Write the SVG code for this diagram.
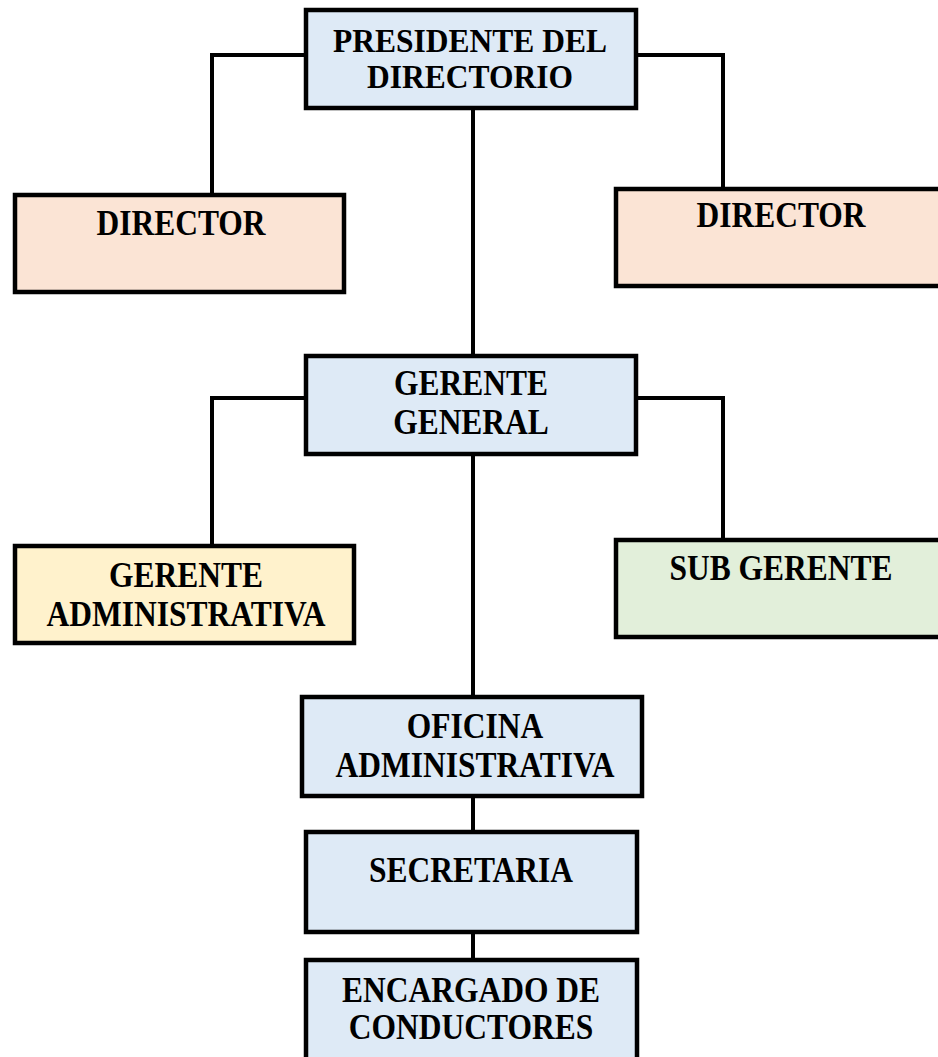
<svg xmlns="http://www.w3.org/2000/svg" width="938" height="1057" viewBox="0 0 938 1057">
<style>
.box{stroke:#000;stroke-width:4.5}
.blue{fill:#DEEAF6}
.peach{fill:#FBE4D5}
.yellow{fill:#FFF2CC}
.green{fill:#E2EFDA}
.lbl{font-family:"Liberation Serif","Times New Roman",serif;font-weight:bold;font-size:35px;fill:#000;text-anchor:middle}
.sm{font-size:33px}
.conn{fill:none;stroke:#000;stroke-width:4}
</style>
<rect width="938" height="1057" fill="#fff"/>
<g id="connectors">
<path class="conn" d="M306 55 H212 V195"/>
<path class="conn" d="M636 55 H723 V189"/>
<path class="conn" d="M473 108 V356"/>
<path class="conn" d="M306 398 H212 V546"/>
<path class="conn" d="M636 398 H723 V540"/>
<path class="conn" d="M473 454 V697"/>
<path class="conn" d="M473 796 V832"/>
<path class="conn" d="M473 932 V960"/>
</g>
<g id="presidente">
<rect class="box blue" x="306" y="10" width="330" height="98"/>
<text class="lbl sm" transform="translate(470 52) scale(0.955 1)">PRESIDENTE DEL</text>
<text class="lbl sm" transform="translate(470 88) scale(0.955 1)">DIRECTORIO</text>
</g>
<g id="director-izq">
<rect class="box peach" x="15" y="195" width="329" height="97"/>
<text class="lbl" transform="translate(181 235) scale(0.9 1)">DIRECTOR</text>
</g>
<g id="director-der">
<rect class="box peach" x="616" y="189" width="340" height="97"/>
<text class="lbl" transform="translate(781 227) scale(0.9 1)">DIRECTOR</text>
</g>
<g id="gerente-general">
<rect class="box blue" x="306" y="356" width="330" height="98"/>
<text class="lbl" transform="translate(471 395) scale(0.9 1)">GERENTE</text>
<text class="lbl" transform="translate(471 434) scale(0.9 1)">GENERAL</text>
</g>
<g id="gerente-administrativa">
<rect class="box yellow" x="15" y="546" width="339" height="97"/>
<text class="lbl" transform="translate(186 587) scale(0.9 1)">GERENTE</text>
<text class="lbl" transform="translate(186 626) scale(0.9 1)">ADMINISTRATIVA</text>
</g>
<g id="sub-gerente">
<rect class="box green" x="616" y="540" width="340" height="97"/>
<text class="lbl" transform="translate(781 580) scale(0.9 1)">SUB GERENTE</text>
</g>
<g id="oficina-administrativa">
<rect class="box blue" x="302" y="697" width="340" height="99"/>
<text class="lbl" transform="translate(475 738) scale(0.9 1)">OFICINA</text>
<text class="lbl" transform="translate(475 777) scale(0.9 1)">ADMINISTRATIVA</text>
</g>
<g id="secretaria">
<rect class="box blue" x="306" y="832" width="331" height="100"/>
<text class="lbl" transform="translate(471 882) scale(0.9 1)">SECRETARIA</text>
</g>
<g id="encargado">
<rect class="box blue" x="306" y="960" width="331" height="110"/>
<text class="lbl" transform="translate(471 1002) scale(0.9 1)">ENCARGADO DE</text>
<text class="lbl" transform="translate(471 1039) scale(0.9 1)">CONDUCTORES</text>
</g>
</svg>
